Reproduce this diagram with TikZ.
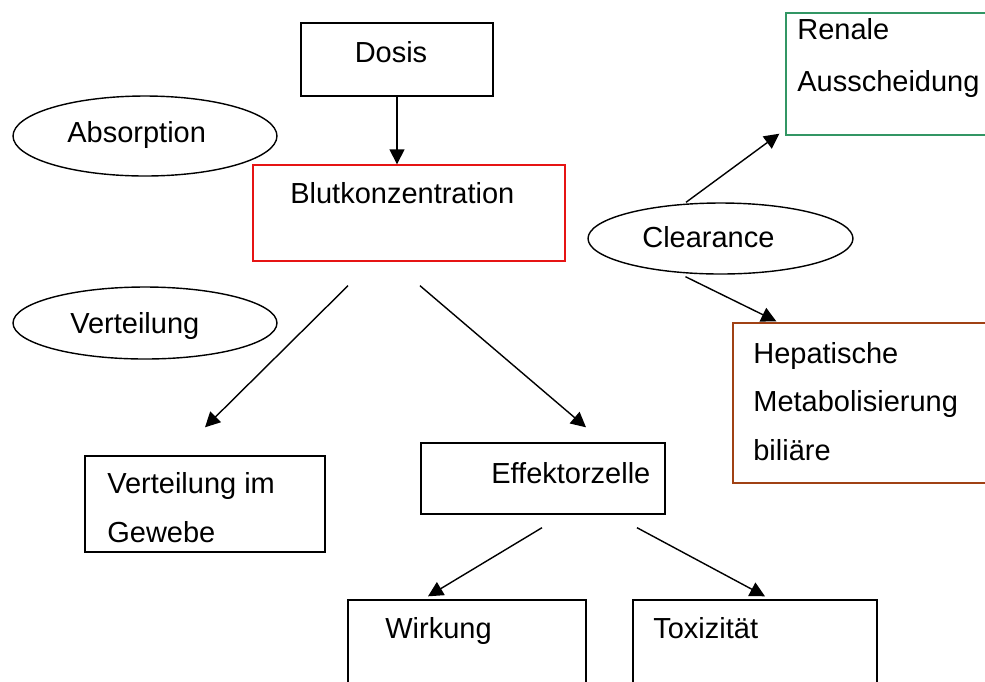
\documentclass[tikz,border=0pt]{standalone}
\usepackage{fontspec}
\setmainfont{Liberation Sans}
\usepackage{xcolor}
\usetikzlibrary{arrows.meta,shapes.geometric}

\definecolor{rotrand}{RGB}{230,20,20}
\definecolor{gruenrand}{RGB}{50,150,100}
\definecolor{braunrand}{RGB}{160,65,20}

\begin{document}
\begin{tikzpicture}[x=0.02cm,y=-0.02cm,
	kasten/.style={draw,line width=0.8pt,inner sep=0pt},
	oval/.style={draw,ellipse,line width=0.8pt,inner sep=0pt,minimum width=5.28cm},
	txt/.style={anchor=base west,inner sep=0pt,align=left,font=\fontsize{16.5}{27.5}\selectfont},
	pfeil/.style={line width=0.8pt,-{Triangle[length=0.3cm,width=0.3cm]}}]
	\useasboundingbox (0,0) rectangle (985,681);
	\clip (0,0) rectangle (985,681);

	% Kaesten
	\node[kasten,minimum width=3.84cm,minimum height=1.46cm] (dosis) at (397,59.5) {};
	\node[kasten,draw=rotrand,minimum width=6.24cm,minimum height=1.92cm] (blut) at (409,213) {};
	\node[kasten,draw=gruenrand,minimum width=4.48cm,minimum height=2.44cm] (renal) at (898,74) {};
	\node[kasten,draw=braunrand,minimum width=5.54cm,minimum height=3.2cm] (hepat) at (871.5,403) {};
	\node[kasten,minimum width=4.8cm,minimum height=1.92cm] (gewebe) at (205,504) {};
	\node[kasten,minimum width=4.88cm,minimum height=1.42cm] (effektor) at (543,478.5) {};
	\node[kasten,minimum width=4.76cm,minimum height=2cm] (wirkung) at (467,650) {};
	\node[kasten,minimum width=4.88cm,minimum height=2cm] (toxiz) at (755,650) {};

	% Ellipsen
	\node[oval,minimum height=1.6cm] (absorp) at (145,136) {};
	\node[oval,minimum height=1.44cm] (vert) at (145,323) {};
	\node[oval,minimum width=5.3cm,minimum height=1.42cm] (clear) at (720.5,238.5) {};

	% Texte (bei mehreren Zeilen: Grundlinie der letzten Zeile)
	\node[txt,anchor=base] (tdosis) at (391,62) {Dosis};
	\node[txt] (tblut) at (290,203) {Blutkonzentration};
	\node[txt] (trenal) at (797,91) {Renale\\[2pt]Ausscheidung};
	\node[txt] (thepat) at (753,460) {Hepatische\\Metabolisierung\\biliäre};
	\node[txt] (tgewebe) at (107,542) {Verteilung im\\Gewebe};
	\node[txt] (teffektor) at (491,483) {Effektorzelle};
	\node[txt] (twirkung) at (385,638) {Wirkung};
	\node[txt] (ttoxiz) at (653,638) {Toxizität};
	\node[txt] (tabsorp) at (67,142) {Absorption};
	\node[txt] (tvert) at (70,333) {Verteilung};
	\node[txt] (tclear) at (642,247) {Clearance};

	% Pfeile
	\draw[pfeil] (dosis.south) -- (dosis.south |- blut.north);
	\draw[pfeil] ([shift={(-61,24)}]blut.south) -- ([shift={(0,-28)}]gewebe.north);
	\draw[pfeil] ([shift={(11,24)}]blut.south) -- ([shift={(43,-15)}]effektor.north);
	\draw[pfeil] ([shift={(-34.5,0)}]clear.north) -- ([shift={(-6,-2)}]renal.south west);
	\draw[pfeil] ([shift={(-35,2)}]clear.south) -- ([shift={(44,-1)}]hepat.north west);
	\draw[pfeil] ([shift={(-1,13)}]effektor.south) -- ([shift={(-39,-3)}]wirkung.north);
	\draw[pfeil] ([shift={(94,13)}]effektor.south) -- ([shift={(10,-3)}]toxiz.north);
\end{tikzpicture}
\end{document}
